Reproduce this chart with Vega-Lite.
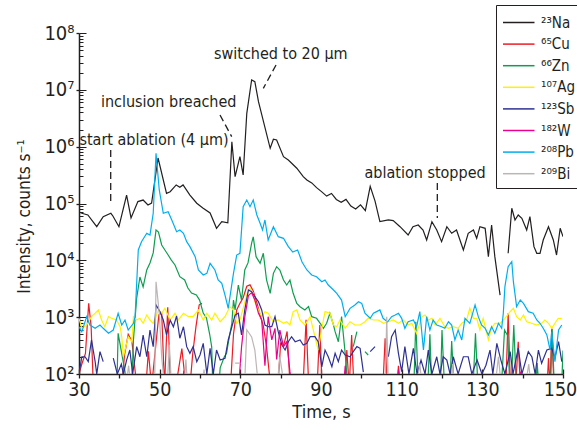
{
"$schema": "https://vega.github.io/schema/vega-lite/v6.json",
"width": 484, "height": 341,
"autosize": "none",
"padding": {"left": 79, "top": 33, "right": 14, "bottom": 56},
"background": "white",
"config": {"view": {"stroke": null}, "font": "DejaVu Sans Condensed"},
"datasets": {
"series": [
{"s":"Na","t":30,"v":71000},{"s":"Na","t":30.7,"v":67300},{"s":"Na","t":32.2,"v":62800},{"s":"Na","t":34.4,"v":39100},{"s":"Na","t":36,"v":58600},{"s":"Na","t":37.9,"v":67300},{"s":"Na","t":38.4,"v":60300},{"s":"Na","t":39.9,"v":39100},{"s":"Na","t":41.8,"v":141000},{"s":"Na","t":42.9,"v":55600},{"s":"Na","t":44.6,"v":108000},{"s":"Na","t":45.9,"v":115000},{"s":"Na","t":47.1,"v":94200},{"s":"Na","t":48,"v":102000},{"s":"Na","t":49.6,"v":632000},{"s":"Na","t":51.7,"v":151000},{"s":"Na","t":52.6,"v":161000},{"s":"Na","t":54.1,"v":212000},{"s":"Na","t":55,"v":193000},{"s":"Na","t":55.8,"v":212000},{"s":"Na","t":57.5,"v":141000},{"s":"Na","t":59.2,"v":101000},{"s":"Na","t":60.7,"v":83400},{"s":"Na","t":62.5,"v":68100},{"s":"Na","t":64.1,"v":36600},{"s":"Na","t":65.4,"v":47900},{"s":"Na","t":66.9,"v":45900},{"s":"Na","t":67.9,"v":1220000},{"s":"Na","t":68.7,"v":296000},{"s":"Na","t":69.9,"v":667000},{"s":"Na","t":70.7,"v":318000},{"s":"Na","t":71.6,"v":3860000},{"s":"Na","t":72.8,"v":14900000},{"s":"Na","t":73.6,"v":13900000},{"s":"Na","t":74.5,"v":6180000},{"s":"Na","t":77.4,"v":937000},{"s":"Na","t":78.2,"v":1350000},{"s":"Na","t":79,"v":1310000},{"s":"Na","t":80.7,"v":667000},{"s":"Na","t":81.9,"v":583000},{"s":"Na","t":84,"v":417000},{"s":"Na","t":85.6,"v":296000},{"s":"Na","t":86.5,"v":259000},{"s":"Na","t":87.7,"v":230000},{"s":"Na","t":88.9,"v":190000},{"s":"Na","t":90.2,"v":160000},{"s":"Na","t":91.4,"v":135000},{"s":"Na","t":92.6,"v":150000},{"s":"Na","t":93.8,"v":118000},{"s":"Na","t":95,"v":105000},{"s":"Na","t":96.2,"v":118000},{"s":"Na","t":97.4,"v":90000},{"s":"Na","t":98.6,"v":80000},{"s":"Na","t":99.8,"v":95000},{"s":"Na","t":101,"v":75000},{"s":"Na","t":102.2,"v":200000},{"s":"Na","t":103.4,"v":110000},{"s":"Na","t":104.6,"v":47900},{"s":"Na","t":106.7,"v":51300},{"s":"Na","t":107.9,"v":50000},{"s":"Na","t":109.6,"v":39100},{"s":"Na","t":111.6,"v":27900},{"s":"Na","t":112.8,"v":39100},{"s":"Na","t":114.1,"v":41900},{"s":"Na","t":115.3,"v":34200},{"s":"Na","t":116.2,"v":22800},{"s":"Na","t":117.5,"v":47900},{"s":"Na","t":118.7,"v":34200},{"s":"Na","t":119.9,"v":21300},{"s":"Na","t":121.2,"v":39100},{"s":"Na","t":122.4,"v":29900},{"s":"Na","t":123.6,"v":34200},{"s":"Na","t":125.3,"v":15200},{"s":"Na","t":126.5,"v":29900},{"s":"Na","t":127.8,"v":34200},{"s":"Na","t":128.6,"v":24400},{"s":"Na","t":129.4,"v":39100},{"s":"Na","t":130.7,"v":36600},{"s":"Na","t":131.5,"v":11600},{"s":"Na","t":132.3,"v":41900},{"s":"Na","t":133.1,"v":11600},{"s":"Na","t":134.4,"v":2450},{"s":"Na","t":135.3,"v":null},{"s":"Na","t":136.4,"v":13300},{"s":"Na","t":137.3,"v":82400},{"s":"Na","t":138.1,"v":51300},{"s":"Na","t":138.9,"v":62800},{"s":"Na","t":139.8,"v":54900},{"s":"Na","t":141,"v":34200},{"s":"Na","t":141.8,"v":58600},{"s":"Na","t":142.8,"v":17400},{"s":"Na","t":143.5,"v":13300},{"s":"Na","t":144.3,"v":13300},{"s":"Na","t":145.1,"v":22800},{"s":"Na","t":146.4,"v":39100},{"s":"Na","t":147.6,"v":22800},{"s":"Na","t":148.4,"v":12400},{"s":"Na","t":149.3,"v":36600},{"s":"Na","t":150,"v":26100},

{"s":"Cu","t":30,"v":100},{"s":"Cu","t":30.7,"v":150},{"s":"Cu","t":31.6,"v":230},{"s":"Cu","t":32.4,"v":1750},{"s":"Cu","t":33,"v":700},{"s":"Cu","t":33.6,"v":50},{"s":"Cu","t":40.5,"v":50},{"s":"Cu","t":41.3,"v":220},{"s":"Cu","t":42.2,"v":500},{"s":"Cu","t":43.1,"v":380},{"s":"Cu","t":44,"v":100},{"s":"Cu","t":44.7,"v":50},{"s":"Cu","t":46.5,"v":50},{"s":"Cu","t":47.2,"v":250},{"s":"Cu","t":48,"v":60},{"s":"Cu","t":49,"v":300},{"s":"Cu","t":49.8,"v":1100},{"s":"Cu","t":50.5,"v":1200},{"s":"Cu","t":51.2,"v":60},{"s":"Cu","t":52,"v":1500},{"s":"Cu","t":52.7,"v":60},{"s":"Cu","t":54,"v":60},{"s":"Cu","t":55.5,"v":280},{"s":"Cu","t":56.5,"v":60},{"s":"Cu","t":57.5,"v":60},{"s":"Cu","t":58.2,"v":230},{"s":"Cu","t":59,"v":680},{"s":"Cu","t":59.8,"v":1650},{"s":"Cu","t":60.5,"v":1750},{"s":"Cu","t":61,"v":null},{"s":"Cu","t":67.5,"v":50},{"s":"Cu","t":68.3,"v":500},{"s":"Cu","t":69.1,"v":1340},{"s":"Cu","t":69.9,"v":1750},{"s":"Cu","t":70.7,"v":2200},{"s":"Cu","t":71.6,"v":3500},{"s":"Cu","t":72.4,"v":3700},{"s":"Cu","t":73.2,"v":2900},{"s":"Cu","t":74.1,"v":1800},{"s":"Cu","t":74.9,"v":1100},{"s":"Cu","t":75.7,"v":700},{"s":"Cu","t":76.5,"v":300},{"s":"Cu","t":77.2,"v":100},{"s":"Cu","t":78,"v":60},{"s":"Cu","t":79.3,"v":60},{"s":"Cu","t":80,"v":350},{"s":"Cu","t":80.8,"v":330},{"s":"Cu","t":81.6,"v":560},{"s":"Cu","t":82.4,"v":50},{"s":"Cu","t":85.5,"v":50},{"s":"Cu","t":86.3,"v":900},{"s":"Cu","t":87,"v":50},{"s":"Cu","t":89,"v":50},{"s":"Cu","t":89.7,"v":730},{"s":"Cu","t":90.3,"v":50},{"s":"Cu","t":95.8,"v":50},{"s":"Cu","t":96.4,"v":264},{"s":"Cu","t":97,"v":60},{"s":"Cu","t":97.6,"v":486},{"s":"Cu","t":98.2,"v":50},{"s":"Cu","t":105.3,"v":50},{"s":"Cu","t":105.9,"v":424},{"s":"Cu","t":106.5,"v":50},{"s":"Cu","t":108.8,"v":50},{"s":"Cu","t":109.2,"v":140},{"s":"Cu","t":109.8,"v":50},{"s":"Cu","t":135.8,"v":50},{"s":"Cu","t":136.4,"v":1170},{"s":"Cu","t":137,"v":50},{"s":"Cu","t":138.2,"v":50},{"s":"Cu","t":138.9,"v":370},{"s":"Cu","t":139.5,"v":50},{"s":"Cu","t":146,"v":50},{"s":"Cu","t":146.4,"v":190},{"s":"Cu","t":146.8,"v":60},{"s":"Cu","t":147.2,"v":637},{"s":"Cu","t":147.8,"v":50},{"s":"Cu","t":150,"v":50},

{"s":"Zn","t":30,"v":30},{"s":"Zn","t":39.3,"v":30},{"s":"Zn","t":39.7,"v":520},{"s":"Zn","t":41.4,"v":110},{"s":"Zn","t":42,"v":30},{"s":"Zn","t":42.9,"v":30},{"s":"Zn","t":43.5,"v":397},{"s":"Zn","t":44.3,"v":2170},{"s":"Zn","t":45.1,"v":5090},{"s":"Zn","t":45.9,"v":3400},{"s":"Zn","t":46.8,"v":6760},{"s":"Zn","t":47.6,"v":8980},{"s":"Zn","t":48.4,"v":13500},{"s":"Zn","t":49.1,"v":34200},{"s":"Zn","t":49.7,"v":31500},{"s":"Zn","t":50.5,"v":18600},{"s":"Zn","t":51.3,"v":15200},{"s":"Zn","t":52.1,"v":12400},{"s":"Zn","t":52.9,"v":10100},{"s":"Zn","t":53.8,"v":8280},{"s":"Zn","t":55,"v":5150},{"s":"Zn","t":56.2,"v":4510},{"s":"Zn","t":57,"v":3260},{"s":"Zn","t":57.9,"v":2660},{"s":"Zn","t":59.1,"v":2450},{"s":"Zn","t":59.9,"v":2000},{"s":"Zn","t":60.8,"v":1180},{"s":"Zn","t":61.6,"v":967},{"s":"Zn","t":62.4,"v":500},{"s":"Zn","t":62.9,"v":300},{"s":"Zn","t":63.3,"v":30},{"s":"Zn","t":64.4,"v":30},{"s":"Zn","t":65,"v":128},{"s":"Zn","t":66,"v":199},{"s":"Zn","t":66.6,"v":234},{"s":"Zn","t":67,"v":351},{"s":"Zn","t":67.9,"v":780},{"s":"Zn","t":68.3,"v":2000},{"s":"Zn","t":68.7,"v":1340},{"s":"Zn","t":69.5,"v":3680},{"s":"Zn","t":70.3,"v":2000},{"s":"Zn","t":71.1,"v":6760},{"s":"Zn","t":71.9,"v":9000},{"s":"Zn","t":72.8,"v":20000},{"s":"Zn","t":73.2,"v":25800},{"s":"Zn","t":73.9,"v":11600},{"s":"Zn","t":74.9,"v":8870},{"s":"Zn","t":75.7,"v":13300},{"s":"Zn","t":76.5,"v":4510},{"s":"Zn","t":77.4,"v":2630},{"s":"Zn","t":78.2,"v":5910},{"s":"Zn","t":79,"v":7730},{"s":"Zn","t":79.8,"v":6760},{"s":"Zn","t":80.7,"v":4510},{"s":"Zn","t":81.5,"v":3680},{"s":"Zn","t":82.3,"v":4510},{"s":"Zn","t":83.1,"v":2630},{"s":"Zn","t":84,"v":1750},{"s":"Zn","t":84.8,"v":1530},{"s":"Zn","t":86,"v":1340},{"s":"Zn","t":86.9,"v":1530},{"s":"Zn","t":87.7,"v":1020},{"s":"Zn","t":88.9,"v":955},{"s":"Zn","t":89.8,"v":780},{"s":"Zn","t":90.6,"v":637},{"s":"Zn","t":91.4,"v":780},{"s":"Zn","t":92.2,"v":1170},{"s":"Zn","t":93.1,"v":728},{"s":"Zn","t":93.5,"v":555},{"s":"Zn","t":94.3,"v":370},{"s":"Zn","t":95.1,"v":1020},{"s":"Zn","t":96,"v":231},{"s":"Zn","t":96.4,"v":100},{"s":"Zn","t":96.8,"v":30},{"s":"Zn","t":97.5,"v":null},{"s":"Zn","t":98,"v":303},{"s":"Zn","t":98.9,"v":555},{"s":"Zn","t":99.3,"v":null},{"s":"Zn","t":100.9,"v":247},{"s":"Zn","t":101.7,"v":216},{"s":"Zn","t":102.2,"v":null},{"s":"Zn","t":112.9,"v":30},{"s":"Zn","t":113.5,"v":832},{"s":"Zn","t":114.3,"v":30},{"s":"Zn","t":116.3,"v":30},{"s":"Zn","t":117,"v":500},{"s":"Zn","t":117.6,"v":30},{"s":"Zn","t":119.5,"v":30},{"s":"Zn","t":120,"v":594},{"s":"Zn","t":120.8,"v":30},{"s":"Zn","t":121.8,"v":30},{"s":"Zn","t":122.4,"v":380},{"s":"Zn","t":123.2,"v":30},{"s":"Zn","t":127.5,"v":30},{"s":"Zn","t":128.3,"v":520},{"s":"Zn","t":129.1,"v":30},{"s":"Zn","t":134.5,"v":30},{"s":"Zn","t":135.5,"v":594},{"s":"Zn","t":136.3,"v":470},{"s":"Zn","t":137,"v":30},{"s":"Zn","t":137.8,"v":728},{"s":"Zn","t":138.6,"v":30},{"s":"Zn","t":143,"v":30},{"s":"Zn","t":143.6,"v":156},{"s":"Zn","t":144.3,"v":30},{"s":"Zn","t":146.8,"v":30},{"s":"Zn","t":147.3,"v":620},{"s":"Zn","t":148,"v":30},{"s":"Zn","t":149.5,"v":30},{"s":"Zn","t":150,"v":260},

{"s":"Ag","t":30,"v":955},{"s":"Ag","t":30.7,"v":637},{"s":"Ag","t":31.9,"v":728},{"s":"Ag","t":33.1,"v":1020},{"s":"Ag","t":34,"v":1170},{"s":"Ag","t":34.8,"v":1340},{"s":"Ag","t":35.6,"v":891},{"s":"Ag","t":36.4,"v":679},{"s":"Ag","t":37.3,"v":1020},{"s":"Ag","t":38.1,"v":955},{"s":"Ag","t":39.3,"v":891},{"s":"Ag","t":40.2,"v":679},{"s":"Ag","t":40.6,"v":453},{"s":"Ag","t":41,"v":201},{"s":"Ag","t":42.2,"v":453},{"s":"Ag","t":43.1,"v":370},{"s":"Ag","t":43.5,"v":1020},{"s":"Ag","t":44.3,"v":891},{"s":"Ag","t":45.1,"v":955},{"s":"Ag","t":45.9,"v":780},{"s":"Ag","t":46.8,"v":1090},{"s":"Ag","t":47.6,"v":891},{"s":"Ag","t":48.4,"v":780},{"s":"Ag","t":49.7,"v":1340},{"s":"Ag","t":50.5,"v":1170},{"s":"Ag","t":51.3,"v":1430},{"s":"Ag","t":52.6,"v":891},{"s":"Ag","t":53.8,"v":1170},{"s":"Ag","t":54.6,"v":891},{"s":"Ag","t":55.9,"v":1170},{"s":"Ag","t":57.1,"v":1020},{"s":"Ag","t":58.3,"v":1020},{"s":"Ag","t":59.6,"v":1340},{"s":"Ag","t":60.8,"v":891},{"s":"Ag","t":61.7,"v":1170},{"s":"Ag","t":62.9,"v":891},{"s":"Ag","t":63.7,"v":1170},{"s":"Ag","t":65,"v":832},{"s":"Ag","t":66.2,"v":1020},{"s":"Ag","t":67.4,"v":1530},{"s":"Ag","t":68.3,"v":1340},{"s":"Ag","t":69.1,"v":780},{"s":"Ag","t":69.9,"v":891},{"s":"Ag","t":70.7,"v":1430},{"s":"Ag","t":71.6,"v":2450},{"s":"Ag","t":72.4,"v":3220},{"s":"Ag","t":73.2,"v":2630},{"s":"Ag","t":73.6,"v":1870},{"s":"Ag","t":74.5,"v":1340},{"s":"Ag","t":75.3,"v":1020},{"s":"Ag","t":76.1,"v":1250},{"s":"Ag","t":76.9,"v":1170},{"s":"Ag","t":78.2,"v":832},{"s":"Ag","t":79.4,"v":891},{"s":"Ag","t":80.7,"v":780},{"s":"Ag","t":81.5,"v":832},{"s":"Ag","t":82.3,"v":728},{"s":"Ag","t":83.1,"v":1250},{"s":"Ag","t":84,"v":1340},{"s":"Ag","t":84.8,"v":891},{"s":"Ag","t":86,"v":728},{"s":"Ag","t":87.3,"v":1020},{"s":"Ag","t":88.5,"v":453},{"s":"Ag","t":89.3,"v":264},{"s":"Ag","t":90.2,"v":637},{"s":"Ag","t":91,"v":1250},{"s":"Ag","t":92.2,"v":1170},{"s":"Ag","t":93.1,"v":728},{"s":"Ag","t":93.9,"v":679},{"s":"Ag","t":94.7,"v":891},{"s":"Ag","t":96,"v":637},{"s":"Ag","t":97.2,"v":832},{"s":"Ag","t":98.4,"v":728},{"s":"Ag","t":99.7,"v":728},{"s":"Ag","t":100.9,"v":832},{"s":"Ag","t":101.7,"v":955},{"s":"Ag","t":103,"v":891},{"s":"Ag","t":104.2,"v":891},{"s":"Ag","t":105.5,"v":780},{"s":"Ag","t":106.7,"v":832},{"s":"Ag","t":107.9,"v":891},{"s":"Ag","t":109.2,"v":780},{"s":"Ag","t":110.4,"v":891},{"s":"Ag","t":111.6,"v":728},{"s":"Ag","t":112.5,"v":780},{"s":"Ag","t":113.7,"v":520},{"s":"Ag","t":115,"v":1020},{"s":"Ag","t":115.8,"v":1090},{"s":"Ag","t":116.6,"v":891},{"s":"Ag","t":117.5,"v":955},{"s":"Ag","t":118.3,"v":728},{"s":"Ag","t":119.5,"v":955},{"s":"Ag","t":120.7,"v":679},{"s":"Ag","t":121.6,"v":637},{"s":"Ag","t":122.8,"v":679},{"s":"Ag","t":124,"v":637},{"s":"Ag","t":124.9,"v":780},{"s":"Ag","t":126.1,"v":891},{"s":"Ag","t":126.9,"v":1430},{"s":"Ag","t":127.8,"v":955},{"s":"Ag","t":128.6,"v":955},{"s":"Ag","t":129.4,"v":594},{"s":"Ag","t":130.2,"v":955},{"s":"Ag","t":131.5,"v":397},{"s":"Ag","t":132.3,"v":637},{"s":"Ag","t":133.1,"v":780},{"s":"Ag","t":134.4,"v":780},{"s":"Ag","t":135.6,"v":955},{"s":"Ag","t":136.9,"v":1250},{"s":"Ag","t":137.7,"v":1430},{"s":"Ag","t":138.5,"v":1020},{"s":"Ag","t":139.4,"v":891},{"s":"Ag","t":140.2,"v":1090},{"s":"Ag","t":141,"v":832},{"s":"Ag","t":142.2,"v":780},{"s":"Ag","t":143.5,"v":728},{"s":"Ag","t":144.7,"v":780},{"s":"Ag","t":145.5,"v":891},{"s":"Ag","t":146.4,"v":780},{"s":"Ag","t":147.2,"v":637},{"s":"Ag","t":148,"v":780},{"s":"Ag","t":148.8,"v":955},{"s":"Ag","t":149.7,"v":955},

{"s":"Sb","t":30,"v":100},{"s":"Sb","t":30.7,"v":201},{"s":"Sb","t":31.5,"v":201},{"s":"Sb","t":32.3,"v":165},{"s":"Sb","t":33.1,"v":397},{"s":"Sb","t":34,"v":165},{"s":"Sb","t":34.4,"v":100},{"s":"Sb","t":35.2,"v":247},{"s":"Sb","t":36,"v":165},{"s":"Sb","t":37,"v":null},{"s":"Sb","t":38.5,"v":190},{"s":"Sb","t":39.5,"v":100},{"s":"Sb","t":40.5,"v":150},{"s":"Sb","t":41,"v":100},{"s":"Sb","t":41.8,"v":176},{"s":"Sb","t":42.6,"v":264},{"s":"Sb","t":43.3,"v":100},{"s":"Sb","t":44.3,"v":303},{"s":"Sb","t":45.1,"v":201},{"s":"Sb","t":45.9,"v":486},{"s":"Sb","t":46.8,"v":201},{"s":"Sb","t":47.6,"v":594},{"s":"Sb","t":48.4,"v":303},{"s":"Sb","t":49.1,"v":1640},{"s":"Sb","t":50.1,"v":1250},{"s":"Sb","t":50.9,"v":891},{"s":"Sb","t":51.7,"v":486},{"s":"Sb","t":52.6,"v":891},{"s":"Sb","t":53.4,"v":679},{"s":"Sb","t":54.2,"v":1050},{"s":"Sb","t":55,"v":425},{"s":"Sb","t":55.9,"v":679},{"s":"Sb","t":56.7,"v":303},{"s":"Sb","t":57.5,"v":231},{"s":"Sb","t":58.3,"v":303},{"s":"Sb","t":59.2,"v":165},{"s":"Sb","t":60,"v":216},{"s":"Sb","t":60.8,"v":347},{"s":"Sb","t":61.7,"v":100},{"s":"Sb","t":62.5,"v":283},{"s":"Sb","t":63.3,"v":100},{"s":"Sb","t":64.1,"v":264},{"s":"Sb","t":65,"v":176},{"s":"Sb","t":66.2,"v":189},{"s":"Sb","t":67,"v":397},{"s":"Sb","t":67.9,"v":679},{"s":"Sb","t":68.7,"v":1090},{"s":"Sb","t":69.5,"v":1170},{"s":"Sb","t":70.3,"v":486},{"s":"Sb","t":71.1,"v":1340},{"s":"Sb","t":72,"v":3010},{"s":"Sb","t":72.8,"v":2810},{"s":"Sb","t":73.6,"v":2290},{"s":"Sb","t":74.5,"v":1870},{"s":"Sb","t":75.3,"v":1340},{"s":"Sb","t":76.1,"v":728},{"s":"Sb","t":76.9,"v":679},{"s":"Sb","t":77.8,"v":679},{"s":"Sb","t":78.6,"v":1020},{"s":"Sb","t":79.4,"v":555},{"s":"Sb","t":80.3,"v":324},{"s":"Sb","t":81.1,"v":264},{"s":"Sb","t":81.9,"v":370},{"s":"Sb","t":82.7,"v":453},{"s":"Sb","t":83.6,"v":370},{"s":"Sb","t":84.8,"v":397},{"s":"Sb","t":85.6,"v":324},{"s":"Sb","t":86.5,"v":347},{"s":"Sb","t":87.3,"v":453},{"s":"Sb","t":88.5,"v":453},{"s":"Sb","t":89.3,"v":370},{"s":"Sb","t":90.2,"v":134},{"s":"Sb","t":91,"v":264},{"s":"Sb","t":91.8,"v":201},{"s":"Sb","t":92.7,"v":134},{"s":"Sb","t":93.5,"v":231},{"s":"Sb","t":94.3,"v":165},{"s":"Sb","t":95.1,"v":264},{"s":"Sb","t":96,"v":216},{"s":"Sb","t":97.2,"v":201},{"s":"Sb","t":98,"v":247},{"s":"Sb","t":98.9,"v":303},{"s":"Sb","t":99.7,"v":283},{"s":"Sb","t":100.5,"v":108},{"s":"Sb","t":101,"v":null},{"s":"Sb","t":102.2,"v":247},{"s":"Sb","t":103.4,"v":303},{"s":"Sb","t":104,"v":null},{"s":"Sb","t":106.7,"v":201},{"s":"Sb","t":107.5,"v":453},{"s":"Sb","t":108.4,"v":594},{"s":"Sb","t":109.2,"v":231},{"s":"Sb","t":110,"v":110},{"s":"Sb","t":110.8,"v":303},{"s":"Sb","t":111.8,"v":100},{"s":"Sb","t":112.9,"v":283},{"s":"Sb","t":113.8,"v":100},{"s":"Sb","t":114.8,"v":176},{"s":"Sb","t":115.8,"v":100},{"s":"Sb","t":116.6,"v":264},{"s":"Sb","t":117.5,"v":100},{"s":"Sb","t":118.7,"v":201},{"s":"Sb","t":119.5,"v":100},{"s":"Sb","t":120.3,"v":201},{"s":"Sb","t":121.2,"v":176},{"s":"Sb","t":122,"v":100},{"s":"Sb","t":122.8,"v":201},{"s":"Sb","t":124,"v":100},{"s":"Sb","t":125.3,"v":201},{"s":"Sb","t":126.5,"v":201},{"s":"Sb","t":127.4,"v":100},{"s":"Sb","t":128.7,"v":176},{"s":"Sb","t":129.9,"v":100},{"s":"Sb","t":130.9,"v":143},{"s":"Sb","t":131.9,"v":264},{"s":"Sb","t":132.6,"v":100},{"s":"Sb","t":133.6,"v":347},{"s":"Sb","t":134.6,"v":176},{"s":"Sb","t":135.6,"v":100},{"s":"Sb","t":136.9,"v":247},{"s":"Sb","t":137.6,"v":100},{"s":"Sb","t":138.9,"v":286},{"s":"Sb","t":139.8,"v":100},{"s":"Sb","t":141.4,"v":247},{"s":"Sb","t":142.3,"v":199},{"s":"Sb","t":143.1,"v":100},{"s":"Sb","t":143.9,"v":264},{"s":"Sb","t":144.7,"v":154},{"s":"Sb","t":146,"v":264},{"s":"Sb","t":147.2,"v":283},{"s":"Sb","t":148,"v":191},{"s":"Sb","t":148.9,"v":370},{"s":"Sb","t":149.7,"v":165},

{"s":"W","t":30,"v":50},{"s":"W","t":55.5,"v":50},{"s":"W","t":56,"v":115},{"s":"W","t":56.5,"v":50},{"s":"W","t":69.5,"v":50},{"s":"W","t":70.3,"v":300},{"s":"W","t":71.1,"v":1000},{"s":"W","t":72,"v":2400},{"s":"W","t":72.8,"v":2700},{"s":"W","t":73.6,"v":2000},{"s":"W","t":74.5,"v":1170},{"s":"W","t":75.3,"v":891},{"s":"W","t":76.1,"v":140},{"s":"W","t":76.9,"v":1020},{"s":"W","t":77.8,"v":400},{"s":"W","t":78.6,"v":637},{"s":"W","t":79,"v":180},{"s":"W","t":79.8,"v":594},{"s":"W","t":80.7,"v":303},{"s":"W","t":81.5,"v":370},{"s":"W","t":82.3,"v":110},{"s":"W","t":83,"v":50},{"s":"W","t":95.5,"v":50},{"s":"W","t":96,"v":140},{"s":"W","t":96.5,"v":50},{"s":"W","t":108.8,"v":50},{"s":"W","t":109.2,"v":120},{"s":"W","t":109.7,"v":50},{"s":"W","t":139,"v":50},{"s":"W","t":139.5,"v":110},{"s":"W","t":140,"v":50},{"s":"W","t":150,"v":50},

{"s":"Pb","t":30,"v":679},{"s":"Pb","t":30.7,"v":555},{"s":"Pb","t":31.9,"v":1020},{"s":"Pb","t":32.7,"v":728},{"s":"Pb","t":34,"v":637},{"s":"Pb","t":35.2,"v":728},{"s":"Pb","t":36,"v":637},{"s":"Pb","t":37.3,"v":520},{"s":"Pb","t":38.5,"v":594},{"s":"Pb","t":39.7,"v":1170},{"s":"Pb","t":40.6,"v":728},{"s":"Pb","t":41.4,"v":891},{"s":"Pb","t":42.2,"v":594},{"s":"Pb","t":43.5,"v":780},{"s":"Pb","t":43.9,"v":1020},{"s":"Pb","t":44.7,"v":15200},{"s":"Pb","t":45.5,"v":21300},{"s":"Pb","t":46.8,"v":29900},{"s":"Pb","t":47.6,"v":27900},{"s":"Pb","t":48.4,"v":67300},{"s":"Pb","t":49.1,"v":766000},{"s":"Pb","t":49.9,"v":173000},{"s":"Pb","t":50.9,"v":67300},{"s":"Pb","t":52.1,"v":71800},{"s":"Pb","t":53,"v":51300},{"s":"Pb","t":54.2,"v":31900},{"s":"Pb","t":55,"v":34200},{"s":"Pb","t":55.9,"v":29900},{"s":"Pb","t":56.7,"v":21300},{"s":"Pb","t":57.5,"v":17400},{"s":"Pb","t":58.8,"v":11600},{"s":"Pb","t":59.6,"v":6760},{"s":"Pb","t":60.8,"v":5520},{"s":"Pb","t":61.7,"v":5910},{"s":"Pb","t":62.5,"v":8870},{"s":"Pb","t":63.7,"v":6760},{"s":"Pb","t":64.5,"v":4510},{"s":"Pb","t":65.4,"v":3940},{"s":"Pb","t":66.2,"v":2450},{"s":"Pb","t":67,"v":1430},{"s":"Pb","t":68.3,"v":5910},{"s":"Pb","t":69.1,"v":12400},{"s":"Pb","t":69.9,"v":13300},{"s":"Pb","t":70.7,"v":87900},{"s":"Pb","t":71.6,"v":115000},{"s":"Pb","t":72.4,"v":87900},{"s":"Pb","t":73.2,"v":115000},{"s":"Pb","t":74.1,"v":62800},{"s":"Pb","t":74.9,"v":44900},{"s":"Pb","t":75.5,"v":34200},{"s":"Pb","t":76.1,"v":51300},{"s":"Pb","t":76.9,"v":22800},{"s":"Pb","t":78.2,"v":39100},{"s":"Pb","t":79.4,"v":26100},{"s":"Pb","t":80.7,"v":24400},{"s":"Pb","t":81.9,"v":17400},{"s":"Pb","t":83,"v":14000},{"s":"Pb","t":84.2,"v":15200},{"s":"Pb","t":85.3,"v":9350},{"s":"Pb","t":86.5,"v":6760},{"s":"Pb","t":87.7,"v":5520},{"s":"Pb","t":88.9,"v":5150},{"s":"Pb","t":90.2,"v":4210},{"s":"Pb","t":91,"v":4510},{"s":"Pb","t":91.8,"v":3680},{"s":"Pb","t":93.1,"v":3010},{"s":"Pb","t":93.9,"v":2630},{"s":"Pb","t":95.1,"v":2000},{"s":"Pb","t":96,"v":1020},{"s":"Pb","t":97.2,"v":1430},{"s":"Pb","t":98.4,"v":1640},{"s":"Pb","t":99.3,"v":1870},{"s":"Pb","t":100.1,"v":1750},{"s":"Pb","t":100.9,"v":1170},{"s":"Pb","t":102.2,"v":955},{"s":"Pb","t":103,"v":1170},{"s":"Pb","t":103.8,"v":1250},{"s":"Pb","t":104.6,"v":1340},{"s":"Pb","t":105.4,"v":955},{"s":"Pb","t":106.5,"v":822},{"s":"Pb","t":107.5,"v":1020},{"s":"Pb","t":108.4,"v":1090},{"s":"Pb","t":109.2,"v":1170},{"s":"Pb","t":110,"v":955},{"s":"Pb","t":110.8,"v":637},{"s":"Pb","t":111.6,"v":832},{"s":"Pb","t":112.9,"v":891},{"s":"Pb","t":113.7,"v":679},{"s":"Pb","t":114.5,"v":1250},{"s":"Pb","t":115.4,"v":264},{"s":"Pb","t":116.2,"v":1020},{"s":"Pb","t":117,"v":594},{"s":"Pb","t":117.8,"v":891},{"s":"Pb","t":118.7,"v":728},{"s":"Pb","t":119.9,"v":679},{"s":"Pb","t":120.7,"v":637},{"s":"Pb","t":121.6,"v":832},{"s":"Pb","t":122.4,"v":728},{"s":"Pb","t":123.2,"v":397},{"s":"Pb","t":124,"v":594},{"s":"Pb","t":124.9,"v":397},{"s":"Pb","t":125.7,"v":955},{"s":"Pb","t":126.9,"v":780},{"s":"Pb","t":128.2,"v":1640},{"s":"Pb","t":129,"v":1020},{"s":"Pb","t":129.8,"v":728},{"s":"Pb","t":130.7,"v":637},{"s":"Pb","t":131.5,"v":486},{"s":"Pb","t":132.3,"v":679},{"s":"Pb","t":133.1,"v":520},{"s":"Pb","t":134,"v":780},{"s":"Pb","t":134.8,"v":637},{"s":"Pb","t":135.2,"v":1170},{"s":"Pb","t":135.6,"v":3440},{"s":"Pb","t":136.4,"v":7730},{"s":"Pb","t":137.3,"v":9460},{"s":"Pb","t":137.7,"v":4210},{"s":"Pb","t":138.5,"v":1530},{"s":"Pb","t":139.4,"v":2000},{"s":"Pb","t":140.2,"v":1750},{"s":"Pb","t":141.4,"v":1250},{"s":"Pb","t":142.6,"v":1170},{"s":"Pb","t":143.5,"v":891},{"s":"Pb","t":144.3,"v":780},{"s":"Pb","t":145.1,"v":637},{"s":"Pb","t":146,"v":486},{"s":"Pb","t":146.8,"v":264},{"s":"Pb","t":147.2,"v":555},{"s":"Pb","t":148,"v":165},{"s":"Pb","t":148.9,"v":594},{"s":"Pb","t":149.7,"v":728},

{"s":"Bi","t":30,"v":50},{"s":"Bi","t":41.5,"v":50},{"s":"Bi","t":42.3,"v":140},{"s":"Bi","t":43,"v":50},{"s":"Bi","t":48.3,"v":50},{"s":"Bi","t":48.8,"v":110},{"s":"Bi","t":49.1,"v":4200},{"s":"Bi","t":49.9,"v":1170},{"s":"Bi","t":50.5,"v":200},{"s":"Bi","t":51.2,"v":60},{"s":"Bi","t":51.8,"v":50},{"s":"Bi","t":52.4,"v":330},{"s":"Bi","t":53,"v":50},{"s":"Bi","t":56,"v":50},{"s":"Bi","t":56.5,"v":180},{"s":"Bi","t":57,"v":50},{"s":"Bi","t":60.5,"v":50},{"s":"Bi","t":61,"v":120},{"s":"Bi","t":61.5,"v":50},{"s":"Bi","t":68.5,"v":null},{"s":"Bi","t":68.7,"v":155},{"s":"Bi","t":70,"v":155},{"s":"Bi","t":70.2,"v":null},{"s":"Bi","t":71,"v":50},{"s":"Bi","t":71.6,"v":600},{"s":"Bi","t":72.8,"v":450},{"s":"Bi","t":73.6,"v":264},{"s":"Bi","t":74.5,"v":60},{"s":"Bi","t":79,"v":50},{"s":"Bi","t":79.8,"v":201},{"s":"Bi","t":80.9,"v":60},{"s":"Bi","t":105.9,"v":50},{"s":"Bi","t":106.3,"v":1020},{"s":"Bi","t":106.7,"v":50},{"s":"Bi","t":113.5,"v":50},{"s":"Bi","t":114.5,"v":150},{"s":"Bi","t":115.2,"v":50},{"s":"Bi","t":122,"v":50},{"s":"Bi","t":122.6,"v":150},{"s":"Bi","t":123.2,"v":50},{"s":"Bi","t":133,"v":50},{"s":"Bi","t":134,"v":200},{"s":"Bi","t":134.8,"v":50},{"s":"Bi","t":140.5,"v":50},{"s":"Bi","t":141.5,"v":150},{"s":"Bi","t":142.2,"v":50},{"s":"Bi","t":150,"v":50}
],
"notes": [
{"t":48.6,"v":1310000,"label":"start ablation (4 μm)"},
{"t":52.24,"v":6040000,"label":"inclusion breached"},
{"t":80.04,"v":42800000,"label":"switched to 20 μm"},
{"t":115.8,"v":348000,"label":"ablation stopped"}
],
"dashes": [
{"t":37.86,"v":870000,"t2":37.86,"v2":102000},
{"t":64.96,"v":3610000,"t2":67.86,"v2":1500000},
{"t":78.85,"v":27400000,"t2":75.7,"v2":10600000},
{"t":118.84,"v":230000,"t2":118.84,"v2":55600}
]
},
"layer": [
{
"data": {"name": "series"},
"mark": {"type": "line", "clip": true, "strokeWidth": 1.2},
"encoding": {
"x": {"field": "t", "type": "quantitative", "title": "Time, s",
 "scale": {"domain": [30, 150], "nice": false, "zero": false},
 "axis": {"orient": "bottom", "values": [30,40,50,60,70,80,90,100,110,120,130,140,150], "labelExpr": "datum.value % 20 == 10 ? datum.label : ''", "labelFlush": false, "labelOverlap": false, "labelOffset": {"condition": {"test": "datum.value == 150", "value": -3}, "value": 0}, "tickSize": 4, "tickWidth": 1.3, "tickColor": "#231f20", "domainColor": "#231f20", "domainWidth": 1.5, "labelFontSize": 19.5, "labelColor": "#231f20", "labelPadding": 2, "labelFont": "DejaVu Sans Condensed", "grid": false, "titleFontSize": 18, "titleFontWeight": "normal", "titleColor": "#231f20", "titlePadding": 5, "titleFont": "DejaVu Sans Condensed"}},
"y": {"field": "v", "type": "quantitative", "title": "Intensity, counts s⁻¹",
 "scale": {"type": "log", "domain": [100, 100000000], "nice": false},
 "axis": {"orient": "left", "values": [100,1000,10000,100000,1000000,10000000,100000000], "labelExpr": "'10' + ['⁰','¹','²','³','⁴','⁵','⁶','⁷','⁸'][round(log(datum.value)/LN10)]", "labelFlush": false, "labelOverlap": false, "tickSize": 3, "tickWidth": 1.3, "tickColor": "#231f20", "domainColor": "#231f20", "domainWidth": 1.5, "labelFontSize": 20, "labelColor": "#231f20", "labelPadding": 2, "labelFont": "DejaVu Sans Condensed", "grid": false, "titleFontSize": 17, "titleFontWeight": "normal", "titleColor": "#231f20", "titleFont": "DejaVu Sans Condensed", "titleAngle": -90, "titleX": -55, "titleY": 183, "titleAlign": "center", "titleBaseline": "middle"}},
"color": {"field": "s", "type": "nominal",
 "scale": {"domain": ["Na","Cu","Zn","Ag","Sb","W","Pb","Bi"], "range": ["#231f20","#ed1c24","#0f9d50","#fff200","#2e3192","#ec008c","#00aeef","#bdb5b5"]},
 "legend": {"orient": "none", "legendX": 417, "legendY": -28, "title": null, "strokeColor": "#231f20", "fillColor": "white", "padding": 6, "symbolType": "M-1,0H2", "symbolSize": 441, "symbolStrokeWidth": 1.5, "labelFontSize": 15, "labelFont": "DejaVu Sans Condensed", "labelColor": "#231f20", "labelOffset": 16, "rowPadding": 1.6,
  "labelExpr": "datum.label == 'Na' ? '²³Na' : datum.label == 'Cu' ? '⁶⁵Cu' : datum.label == 'Zn' ? '⁶⁶Zn' : datum.label == 'Ag' ? '¹⁰⁷Ag' : datum.label == 'Sb' ? '¹²³Sb' : datum.label == 'W' ? '¹⁸²W' : datum.label == 'Pb' ? '²⁰⁸Pb' : '²⁰⁹Bi'"}}
}
},
{
"data": {"values": [{"t": 30, "v": 100}]},
"mark": {"type": "point", "opacity": 0},
"encoding": {
"x": {"field": "t", "type": "quantitative", "axis": {"orient": "bottom", "values": [30,50,70,90,110,130,150], "labels": false, "domain": false, "tickSize": -5, "tickWidth": 1.3, "tickColor": "#231f20", "title": null, "grid": false}},
"y": {"field": "v", "type": "quantitative", "axis": {"orient": "left", "values": [100,200,300,400,500,600,700,800,900,1000,2000,3000,4000,5000,6000,7000,8000,9000,10000,20000,30000,40000,50000,60000,70000,80000,90000,100000,200000,300000,400000,500000,600000,700000,800000,900000,1000000,2000000,3000000,4000000,5000000,6000000,7000000,8000000,9000000,10000000,20000000,30000000,40000000,50000000,60000000,70000000,80000000,90000000,100000000], "labels": false, "domain": false, "tickSize": {"condition": {"test": "abs(log(datum.value)/LN10 - round(log(datum.value)/LN10)) < 0.001", "value": -7}, "value": -4}, "tickWidth": 1, "tickColor": "#231f20", "title": null, "grid": false}}
}
},
{
"data": {"name": "dashes"},
"mark": {"type": "rule", "strokeDash": [7, 4], "strokeWidth": 1.3, "color": "#231f20"},
"encoding": {
"x": {"field": "t", "type": "quantitative", "axis": null},
"y": {"field": "v", "type": "quantitative", "axis": null},
"x2": {"field": "t2"},
"y2": {"field": "v2"}
}
},
{
"data": {"name": "notes"},
"mark": {"type": "text", "fontSize": 16, "font": "DejaVu Sans Condensed", "color": "#231f20", "align": "center", "baseline": "middle"},
"encoding": {
"x": {"field": "t", "type": "quantitative", "axis": null},
"y": {"field": "v", "type": "quantitative", "axis": null},
"text": {"field": "label"}
}
}
],
"resolve": {"axis": {"x": "independent", "y": "independent"}}
}
